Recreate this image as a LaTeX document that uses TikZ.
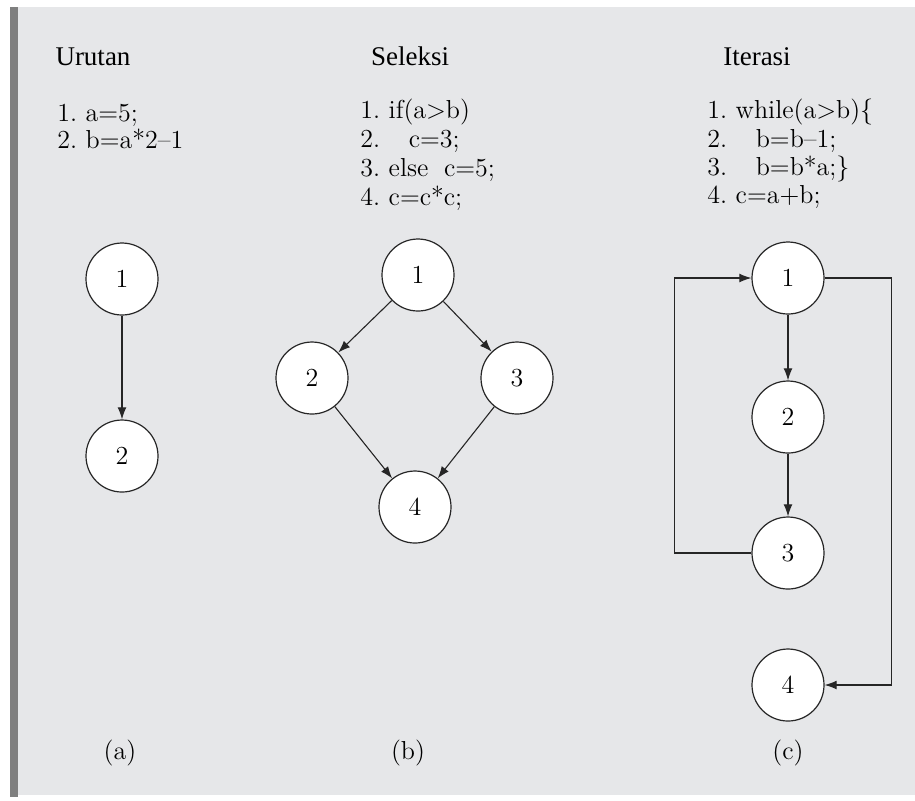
\documentclass[tikz,border=0pt]{standalone}
\usepackage{fontspec}
\newfontfamily\headfont{Liberation Serif}
\usetikzlibrary{arrows.meta,positioning}
\definecolor{panelgray}{HTML}{E6E7E9}
\definecolor{bargray}{HTML}{7F7F7F}
\frenchspacing

\begin{document}
\begin{tikzpicture}[x=0.5pt,y=-0.5pt,
  vertex/.style={circle,draw=black!85,fill=white,line width=0.6pt,
                 minimum size=36pt,inner sep=0pt,font=\fontsize{13}{13}\selectfont},
  code/.style={anchor=base west,inner sep=0pt,font=\fontsize{13}{14}\selectfont},
  judul/.style={anchor=base,inner sep=0pt,font=\headfont\fontsize{13.5}{14}\selectfont},
  caption/.style={inner sep=0pt,font=\fontsize{13}{13}\selectfont}]

\tikzset{panah/.style={-{Latex[length=6pt,width=4.4pt]},line width=0.55pt,draw=black!85}}

\useasboundingbox (0,0) rectangle (915,800);
\fill[panelgray] (10,7) rectangle (915,795);
\fill[bargray] (10,7) rectangle (18,797);

% judul
\node[judul] (tUrutan) at (93,65) {Urutan};
\node[judul] (tSeleksi) at (410,65) {Seleksi};
\node[judul] (tIterasi) at (757,65) {Iterasi};

% kode program
\node[code] (ua1) at (57,121) {1. a=5;};
\node[code] (ua2) at (57,148) {2. b=a*2--1};

\node[code] (sb1) at (360,118) {1. if(a>b)};
\node[code] (sb2) at (360,147) {2.\hspace{1.1em}c=3;};
\node[code] (sb3) at (360,176) {3. else\hspace{0.6em}c=5;};
\node[code] (sb4) at (360,205) {4. c=c*c;};

\node[code] (ic1) at (707,118) {1. while(a>b)\{};
\node[code] (ic2) at (707,147) {2.\hspace{1.1em}b=b--1;};
\node[code] (ic3) at (707,175) {3.\hspace{1.1em}b=b*a;\}};
\node[code] (ic4) at (707,203) {4. c=a+b;};

% (a) urutan
\node[vertex] (u1) at (122,279) {1};
\node[vertex] (u2) at (122,456) {2};
\draw[panah] (u1) -- (u2);

% (b) seleksi
\node[vertex] (s1) at (418,275) {1};
\node[vertex] (s2) at (312,378) {2};
\node[vertex] (s3) at (517,378) {3};
\node[vertex] (s4) at (415,507) {4};
\draw[panah] (s1) -- (s2);
\draw[panah] (s1) -- (s3);
\draw[panah] (s2) -- (s4);
\draw[panah] (s3) -- (s4);

% (c) iterasi
\node[vertex] (i1) at (788,278) {1};
\node[vertex] (i2) at (788,417) {2};
\node[vertex] (i3) at (788,553) {3};
\node[vertex] (i4) at (788,685) {4};
\draw[panah] (i1) -- (i2);
\draw[panah] (i2) -- (i3);
\draw[panah] (i3.west) -- ++(-77,0) |- (i1.west);
\draw[panah] (i1.east) -- ++(67,0) |- (i4.east);

% keterangan
\node[caption] (ka) at (120,753) {(a)};
\node[caption] (kb) at (408,753) {(b)};
\node[caption] (kc) at (788,753) {(c)};
\end{tikzpicture}
\end{document}
